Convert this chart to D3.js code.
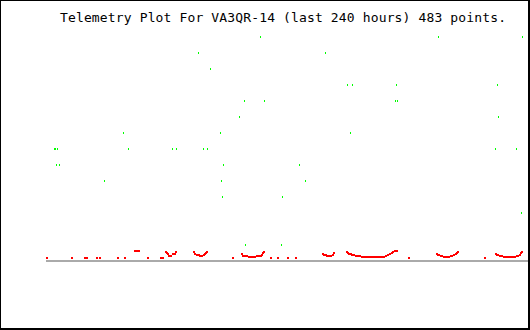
<!DOCTYPE html>
<html>
<head>
<meta charset="utf-8">
<script src="https://cdn.jsdelivr.net/npm/d3@7"></script>
<style>
  body { margin: 0; background: #fff; }
  svg { display: block; }
</style>
</head>
<body>
<div id="chart"></div>
<script>
// ---- data (hours since start of window, reading) ----
const title = "Telemetry Plot For VA3QR-14 (last 240 hours) 483 points."
const hourDomain = [0, 240]
const valueDomain = [0, 14]

// green channel: sparse integer readings
const greenSeries = [
  [107, 14], [196, 14], [238, 14],
  [76, 13], [139.5, 13],
  [82, 12],
  [150.5, 11], [153, 11], [175, 11], [225.5, 11],
  [99, 10], [109, 10], [174.5, 10], [175.5, 10],
  [96.5, 9], [226, 9],
  [38.5, 8], [87, 8], [152, 8],
  [4, 7], [4.5, 7], [5.5, 7], [41, 7], [63, 7], [65, 7], [78.5, 7], [80.5, 7], [224.5, 7], [235, 7],
  [5, 6], [6.5, 6], [88.5, 6], [126.5, 6],
  [29, 5], [87.5, 5], [129.5, 5],
  [88, 4], [118, 4],
  [237.5, 3],
  [99.5, 1], [117.5, 1]
]

// red channel: low readings, isolated + daily dips
const redIsolated = [
  [0, 0.19], [12.5, 0.19], [19, 0.19], [20, 0.19], [25, 0.19], [26.5, 0.19],
  [35.5, 0.19], [39, 0.19], [50.5, 0.19], [57, 0.19], [58, 0.19], [93, 0.19],
  [112, 0.19], [115.5, 0.19], [120.5, 0.19], [124.5, 0.19], [181, 0.19], [219, 0.19],
  [44, 0.63], [45, 0.63], [46, 0.63]
]
const redDip1 = [[59.5, 0.56], [60, 0.5], [60.5, 0.44], [61, 0.31], [62, 0.31], [63, 0.44], [64, 0.44], [64.5, 0.56]]
const redDip2 = [[73.5, 0.56], [74, 0.44], [75, 0.38], [76, 0.38], [76.5, 0.31], [77.5, 0.31], [78.5, 0.38], [79, 0.44], [79.5, 0.5], [80, 0.56]]
const redDip3 = [[97.5, 0.44], [98, 0.31], [99, 0.31], [100, 0.31], [101, 0.25], [102, 0.25], [103, 0.25], [104, 0.25],
  [105, 0.31], [106, 0.31], [107, 0.31], [107.5, 0.38], [108, 0.5], [108.5, 0.56]]
const redDip4 = [[138, 0.44], [138.5, 0.38], [139.5, 0.38], [140, 0.31], [141, 0.31], [142, 0.31], [143, 0.38], [143.5, 0.5]]
const redDip5 = [[150, 0.56], [150.5, 0.5], [151, 0.44], [152, 0.44], [152.5, 0.38], [153.5, 0.38], [154.5, 0.31], [155.5, 0.31],
  [156.5, 0.31], [157.5, 0.25], [158.5, 0.25], [159.5, 0.25], [160.5, 0.25], [161.5, 0.25], [162.5, 0.25], [163.5, 0.25],
  [164.5, 0.25], [165.5, 0.25], [166.5, 0.25], [167.5, 0.25], [168.5, 0.25], [169.5, 0.31], [170.5, 0.38], [171.5, 0.44],
  [172.5, 0.5], [173, 0.56], [174, 0.63], [175, 0.63]]
const redDip6 = [[195, 0.44], [195.5, 0.38], [196, 0.38], [197, 0.31], [197.5, 0.31], [198.5, 0.25], [199.5, 0.25], [200.5, 0.25],
  [201, 0.25], [202, 0.31], [202.5, 0.31], [203.5, 0.38], [204.5, 0.44], [205, 0.5], [205.5, 0.56]]
const redDip7 = [[224.5, 0.44], [225, 0.38], [225.5, 0.38], [226.5, 0.31], [227.5, 0.31], [228.5, 0.25], [229.5, 0.25], [230.5, 0.25],
  [231.5, 0.25], [232.5, 0.25], [233.5, 0.25], [234, 0.25], [235, 0.31], [235.5, 0.31], [236.5, 0.38], [237, 0.5], [237.5, 0.56]]

const redSeries = [].concat(redIsolated, redDip1, redDip2, redDip3, redDip4, redDip5, redDip6, redDip7)

// ---- set-up ----
const W = 530, H = 330
const svg = d3.select("#chart").append("svg")
  .attr("width", W).attr("height", H)
  .attr("shape-rendering", "crispEdges")

const x = d3.scaleLinear().domain(hourDomain).range([46, 526])
const y = d3.scaleLinear().domain(valueDomain).range([260, 36])

// frame: 1px top/left, 2px right/bottom
svg.append("rect")
  .attr("x", 0).attr("y", 0)
  .attr("width", W).attr("height", H)
  .attr("fill", "#000")
svg.append("rect")
  .attr("x", 1).attr("y", 1)
  .attr("width", W - 3).attr("height", H - 3)
  .attr("fill", "#fff")

// title
svg.append("text")
  .attr("x", 60).attr("y", 22)
  .attr("font-family", "DejaVu Sans Mono, monospace")
  .attr("font-size", 13)
  .attr("textLength", 446)
  .attr("lengthAdjust", "spacing")
  .attr("fill", "#000")
  .text(title)

// baseline (zero)
svg.append("rect")
  .attr("x", x(0)).attr("y", y(0))
  .attr("width", W - 2 - x(0)).attr("height", 2)
  .attr("fill", "#aaaaaa")

// green points
svg.append("g").selectAll("rect")
  .data(greenSeries)
  .enter().append("rect")
  .attr("x", d => Math.round(x(d[0])))
  .attr("y", d => Math.round(y(d[1])))
  .attr("width", 1).attr("height", 2)
  .attr("fill", "#00ff00")

// red points
svg.append("g").selectAll("rect")
  .data(redSeries)
  .enter().append("rect")
  .attr("x", d => Math.round(x(d[0])))
  .attr("y", d => Math.round(y(d[1])))
  .attr("width", 2).attr("height", 2)
  .attr("fill", "#ff0000")
</script>
</body>
</html>
